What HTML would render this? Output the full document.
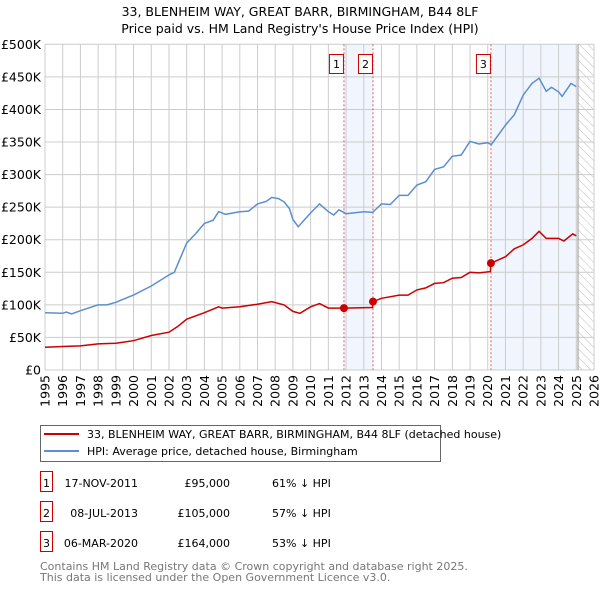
<!DOCTYPE html>
<html><head><meta charset="utf-8"><style>
body{margin:0;background:#fff;font-family:"DejaVu Sans","Liberation Sans",sans-serif;}
svg{display:block}
</style></head><body>
<svg width="600" height="590" font-family="DejaVu Sans, Liberation Sans, sans-serif">
<text x="300" y="16" text-anchor="middle" font-size="12.5">33, BLENHEIM WAY, GREAT BARR, BIRMINGHAM, B44 8LF</text>
<text x="300" y="33" text-anchor="middle" font-size="12.5">Price paid vs. HM Land Registry's House Price Index (HPI)</text>
<defs><pattern id="hatch" width="6" height="6" patternUnits="userSpaceOnUse" patternTransform="rotate(-45)"><line x1="0" y1="0" x2="0" y2="6" stroke="#bbb" stroke-width="1"/></pattern></defs>
<g id="plot"></g>
<g>
<rect x="40.5" y="425.5" width="400" height="36" fill="#fff" stroke="#666"/>
<line x1="44" y1="434" x2="79" y2="434" stroke="#cc0000" stroke-width="2"/>
<text x="87" y="438" font-size="11">33, BLENHEIM WAY, GREAT BARR, BIRMINGHAM, B44 8LF (detached house)</text>
<line x1="44" y1="451" x2="79" y2="451" stroke="#5b8fd0" stroke-width="2"/>
<text x="87" y="455" font-size="11">HPI: Average price, detached house, Birmingham</text>
</g>
<g id="table" font-size="11"></g>
<text x="40" y="570" font-size="11" fill="#777">Contains HM Land Registry data © Crown copyright and database right 2025.</text>
<text x="40" y="581" font-size="11" fill="#777">This data is licensed under the Open Government Licence v3.0.</text>
</svg>
<script>
const hpiYears=[1995,1996,1996.2,1996.5,1997,1998,1998.5,1999,2000,2001,2002,2002.3,2003,2003.5,2004,2004.5,2004.8,2005.2,2006,2006.5,2007,2007.5,2007.8,2008.2,2008.5,2008.8,2009,2009.3,2010,2010.5,2011,2011.3,2011.6,2012,2013,2013.5,2014,2014.5,2015,2015.5,2016,2016.5,2017,2017.5,2018,2018.5,2019,2019.5,2020,2020.2,2021,2021.5,2022,2022.5,2022.9,2023.3,2023.6,2024,2024.2,2024.7,2025];
const hpiValues=[88,87,89,86,91,100,100,104,115,129,146,150,195,209,225,230,243,239,243,244,255,259,265,263,258,248,231,220,241,255,243,238,246,240,243,242,255,254,268,268,284,289,308,312,328,330,351,347,349,346,376,392,422,440,448,428,434,427,420,440,435];
const priceYears=[1995,1996,1997,1998,1999,2000,2001,2002,2002.5,2003,2004,2004.8,2005,2006,2007,2007.8,2008.5,2009,2009.4,2010,2010.5,2011,2011.88,2013.5,2013.52,2014,2015,2015.5,2016,2016.5,2017,2017.5,2018,2018.5,2019,2019.5,2020.15,2020.18,2021,2021.5,2022,2022.5,2022.9,2023.3,2024,2024.3,2024.8,2025];
const priceValues=[35,36,37,40,41,45,53,58,67,78,88,97,95,97,101,105,100,90,87,97,102,95,95,96,105,110,115,115,123,126,133,134,141,142,150,149,151,164,174,186,192,202,213,202,202,198,209,206];
const saleLabels=["1","2","3"];
const saleYears=[2011.88,2013.52,2020.18];
const saleValues=[95,105,164];
const saleDates=["17-NOV-2011","08-JUL-2013","06-MAR-2020"];
const salePrices=["£95,000","£105,000","£164,000"];
const salePcts=["61% ↓ HPI","57% ↓ HPI","53% ↓ HPI"];
const yTicks=[0,50,100,150,200,250,300,350,400,450,500];
const yTickLabels=["£0","£50K","£100K","£150K","£200K","£250K","£300K","£350K","£400K","£450K","£500K"];
const xTicks=[1995,1996,1997,1998,1999,2000,2001,2002,2003,2004,2005,2006,2007,2008,2009,2010,2011,2012,2013,2014,2015,2016,2017,2018,2019,2020,2021,2022,2023,2024,2025,2026];

const L=45,R=594,T=44.3,B=370,x0=1995,x1=2026,dataEnd=2025.1;
const X=v=>L+(v-x0)/(x1-x0)*(R-L);
const Y=v=>B-v/500*(B-T);
const NS="http://www.w3.org/2000/svg";
function mk(tag,attrs,parent){const e=document.createElementNS(NS,tag);for(const k in attrs)e.setAttribute(k,attrs[k]);parent.appendChild(e);return e;}
const plot=document.getElementById('plot');
// shading
const sh1=mk('rect',{x:X(saleYears[0]),y:T,width:X(saleYears[1])-X(saleYears[0]),height:B-T,fill:'#eef3fc',opacity:0.8},plot);


const sh2=mk('rect',{x:X(saleYears[2]),y:T,width:X(dataEnd)-X(saleYears[2]),height:B-T,fill:'#eef3fc',opacity:0.8},plot);


const hz=mk('rect',{x:X(dataEnd),y:T,width:R-X(dataEnd),height:B-T,fill:'url(#hatch)'},plot);


// grid
yTicks.forEach((v,i)=>{
 const g=mk('line',{x1:L,x2:R,y1:Y(v),y2:Y(v),stroke:'#ccc','stroke-width':1},plot);
 
 
 const t=mk('text',{x:L-4,y:Y(v)+4.5,'text-anchor':'end','font-size':12.5},plot);
 
 
 t.textContent=yTickLabels[i];
});
xTicks.forEach(v=>{
 const g=mk('line',{x1:X(v),x2:X(v),y1:T,y2:B,stroke:'#ccc','stroke-width':1},plot);
 
 
 const t=mk('text',{x:0,y:0,'text-anchor':'end','font-size':12.5,transform:`translate(${X(v)+4.5},${B+5}) rotate(-90)`},plot);
 
 
 t.textContent=v;
});
const ed=mk('line',{x1:X(dataEnd),x2:X(dataEnd),y1:T,y2:B,stroke:'#999','stroke-width':1},plot);


// sale markers
saleYears.forEach((v,i)=>{
 const l=mk('line',{x1:X(v),x2:X(v),y1:T,y2:B,stroke:'#e06060','stroke-width':1,'stroke-dasharray':'2,2'},plot);
 
 
 const bx=mk('rect',{x:X(v)-14.5,y:54.5,width:14,height:19,fill:'#fff',stroke:'#cc0000'},plot);
 
 
 const t=mk('text',{x:X(v)-7.5,y:68,'text-anchor':'middle','font-size':11},plot);
 
 
 t.textContent=saleLabels[i];
});
const pts=(xs,ys)=>xs.map((v,i)=>X(v).toFixed(1)+','+Y(ys[i]).toFixed(1)).join(' ');
const hl=mk('polyline',{points:pts(hpiYears,hpiValues),fill:'none',stroke:'#5b8fd0','stroke-width':1.5},plot);


const pl=mk('polyline',{points:pts(priceYears,priceValues),fill:'none',stroke:'#cc0000','stroke-width':1.5},plot);


saleYears.forEach((v,i)=>{
 const c=mk('circle',{cx:X(v),cy:Y(saleValues[i]),r:4,fill:'#cc0000'},plot);
 
 
});
const tb=document.getElementById('table');
const rowY=[483,513,543];
saleLabels.forEach((s,i)=>{
 const y=rowY[i];
 const b=mk('rect',{x:40.5,y:y-11.5,width:12,height:20,fill:'#fff',stroke:'#cc0000'},tb);
 
 
 const t0=mk('text',{x:46.5,y:y+4,'text-anchor':'middle'},tb);
 
 
 t0.textContent=s;
 const t1=mk('text',{x:138,y:y+4,'text-anchor':'end'},tb);
 
 
 t1.textContent=saleDates[i];
 const t2=mk('text',{x:230,y:y+4,'text-anchor':'end'},tb);
 
 
 t2.textContent=salePrices[i];
 const t3=mk('text',{x:272,y:y+4},tb);
 
 
 t3.textContent=salePcts[i];
});
</script>
</body></html>
